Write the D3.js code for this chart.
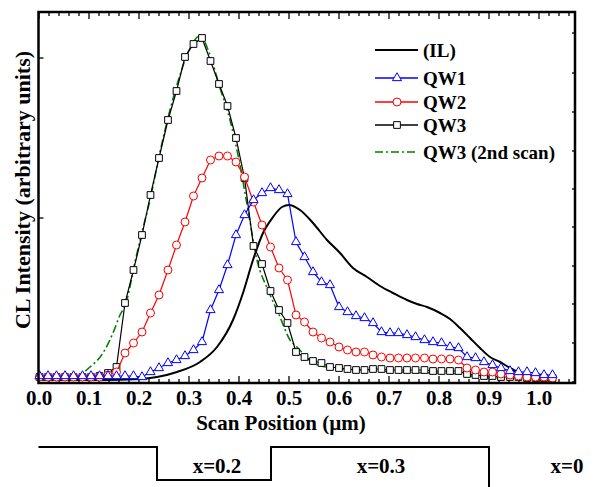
<!DOCTYPE html>
<html>
<head>
<meta charset="utf-8">
<script src="https://cdn.jsdelivr.net/npm/d3@7"></script>
<style>
  body { margin: 0; background: #fff; }
  svg { font-family: "Liberation Serif", "Times New Roman", serif; font-weight: bold; }
</style>
</head>
<body>
<svg id="chart" width="599" height="487"></svg>
<script>
// scan positions (um) where QW1/QW2/QW3 were sampled
const scanX = [0.001, 0.018, 0.035, 0.052, 0.069, 0.087, 0.104, 0.121, 0.138, 0.155,
  0.172, 0.189, 0.206, 0.223, 0.240, 0.258, 0.275, 0.292, 0.309, 0.326,
  0.343, 0.360, 0.377, 0.394, 0.411, 0.429, 0.446, 0.463, 0.480, 0.497,
  0.514, 0.531, 0.548, 0.565, 0.582, 0.600, 0.617, 0.634, 0.651, 0.668,
  0.685, 0.702, 0.719, 0.736, 0.753, 0.771, 0.788, 0.805, 0.822, 0.839,
  0.856, 0.873, 0.890, 0.907, 0.924, 0.942, 0.959, 0.976, 0.993, 1.010, 1.027];

const qw1 = [2, 2, 2, 2, 2, 2, 2, 2, 2, 2,
  2, 2, 1, 6, 10, 15, 18, 22, 28, 36,
  68, 88, 113, 143, 163, 178, 185, 190, 188, 184,
  136, 121, 106, 96, 93, 71, 66, 62, 60, 55,
  46, 45, 45, 43, 41, 38, 36, 35, 31, 30,
  21, 20, 16, 13, 10, 7, 6, 6, 5, 3, 3];

const qw2 = [1, 1, 1, 1, 1, 1, 1, 1, 3, 6,
  25, 35, 46, 65, 83, 108, 133, 156, 182, 200,
  218, 222, 222, 216, 201, 176, 153, 131, 110, 98,
  63, 56, 46, 40, 36, 31, 28, 26, 26, 23,
  21, 20, 20, 20, 20, 20, 19, 19, 19, 18,
  10, 8, 6, 6, 4, 3, 2, 1, 1, 1, 0];

const qw3 = [1, 1, 1, 1, 1, 1, 1, 2, 5, 11,
  75, 108, 143, 183, 220, 258, 287, 321, 334, 340,
  317, 294, 272, 240, 200, 132, 114, 87, 68, 55,
  26, 21, 17, 15, 11, 10, 9, 8, 8, 9,
  9, 8, 8, 8, 8, 8, 7, 7, 7, 7,
  4, 3, 2, 2, 1, 1, 1, 0, 0, 0, 0];

// (IL) trace
const ilX = [0, 0.122, 0.202, 0.236, 0.276, 0.322, 0.356, 0.388, 0.408, 0.428,
  0.448, 0.468, 0.486, 0.500, 0.522, 0.548, 0.576, 0.602, 0.628, 0.656,
  0.682, 0.708, 0.736, 0.756, 0.776, 0.802, 0.822, 0.842, 0.862, 0.882,
  0.902, 0.922, 0.942, 0.962, 0.988, 1.016, 1.032];
const ilY = [-2, -2, -1, 1, 6, 16, 31, 58, 85, 118,
  145, 161, 171, 173, 168, 155, 138, 125, 110, 101,
  92, 85, 78, 74, 71, 65, 59, 50, 40, 30,
  21, 16, 10, 5, 1, 0, 0];

// QW3 (2nd scan) trace
const scan2X = [0.001, 0.022, 0.068, 0.102, 0.128, 0.148, 0.162, 0.174, 0.192, 0.208,
  0.222, 0.242, 0.262, 0.282, 0.302, 0.322, 0.342, 0.362, 0.382, 0.402,
  0.418, 0.436, 0.458, 0.482, 0.502, 0.516, 0.548, 0.588, 0.656, 0.722,
  0.842, 0.862, 0.922, 1.032];
const scan2Y = [-2, -2, 0, 11, 25, 45, 63, 75, 116, 150,
  178, 226, 268, 303, 330, 342, 323, 290, 258, 213,
  168, 118, 88, 61, 38, 31, 15, 10, 8, 6,
  4, 2, 1, -1];

const xMajor = [0, 0.1, 0.2, 0.3, 0.4, 0.5, 0.6, 0.7, 0.8, 0.9, 1.0];
const xMinor = d3.range(0, 1.061, 0.02);
const leftTicks = [0, 160, 320];
const rightTicks = [-4, 35, 74, 112, 151, 189, 227, 266, 305, 345];

// composition profile under the plot
const layerSteps = [[-0.001, 1], [0.236, 0], [0.464, 1], [0.900, -0.6], [1.1, -0.6]];
const layerLabels = ['x=0.2', 'x=0.3', 'x=0'];
const layerLabelX = [0.356, 0.684, 1.056];

const svg = d3.select('#chart');
const L = 38.5, R = 575, T = 12, B = 383;

const x = d3.scaleLinear().domain([0, 1]).range([39, 539]);
const y = d3.scaleLinear().domain([-5, 366]).range([B, T]);
const level = d3.scaleLinear().domain([0, 1]).range([480, 447]);

// ticks (all pointing inward)
const tk = svg.append('g').attr('stroke', '#000').attr('stroke-width', 1.3);
xMinor.forEach(v => {
  const major = xMajor.some(m => Math.abs(m - v) < 1e-6);
  const len = major ? 7 : 4;
  tk.append('line').attr('x1', x(v)).attr('x2', x(v)).attr('y1', B).attr('y2', B - len);
  tk.append('line').attr('x1', x(v)).attr('x2', x(v)).attr('y1', T).attr('y2', T + len);
});
leftTicks.forEach(v => {
  tk.append('line').attr('x1', L).attr('x2', L + 5).attr('y1', y(v)).attr('y2', y(v));
});
rightTicks.forEach(v => {
  tk.append('line').attr('x1', R).attr('x2', R - 3).attr('y1', y(v)).attr('y2', y(v));
});

svg.append('g').selectAll('text').data(xMajor).join('text')
  .attr('x', d => x(d)).attr('y', 405)
  .attr('text-anchor', 'middle').attr('font-size', 21)
  .text(d => d3.format('.1f')(d));

svg.append('text').attr('x', x(0.484)).attr('y', 430)
  .attr('text-anchor', 'middle').attr('font-size', 21)
  .text('Scan Position (µm)');

svg.append('text')
  .attr('transform', 'translate(30,190) rotate(-90)')
  .attr('text-anchor', 'middle').attr('font-size', 22)
  .text('CL Intensity (arbitrary units)');

// curves
const line = d3.line().x(d => x(d[0])).y(d => y(d[1]));

svg.append('path')
  .datum(d3.zip(ilX, ilY))
  .attr('fill', 'none').attr('stroke', '#000').attr('stroke-width', 2)
  .attr('d', line.curve(d3.curveMonotoneX));

svg.append('path')
  .datum(d3.zip(scan2X, scan2Y))
  .attr('fill', 'none').attr('stroke', '#008000').attr('stroke-width', 1.6)
  .attr('stroke-dasharray', '8,3,2,3')
  .attr('d', line.curve(d3.curveMonotoneX));

const series = [
  { name: 'QW3', values: qw3, color: '#000', symbol: d3.symbolSquare, size: 45 },
  { name: 'QW2', values: qw2, color: '#ff0000', symbol: d3.symbolCircle, size: 50 },
  { name: 'QW1', values: qw1, color: '#0000ff', symbol: d3.symbolTriangle, size: 36 }
];

series.forEach(s => {
  const pts = d3.zip(scanX, s.values);
  svg.append('path').datum(pts)
    .attr('fill', 'none').attr('stroke', s.color).attr('stroke-width', 1.2)
    .attr('d', line.curve(d3.curveLinear));
  svg.append('g').selectAll('path').data(pts).join('path')
    .attr('transform', d => `translate(${x(d[0])},${y(d[1])})`)
    .attr('d', d3.symbol(s.symbol, s.size))
    .attr('fill', '#fff').attr('stroke', s.color).attr('stroke-width', 1);
});

// frame
svg.append('rect').attr('x', L).attr('y', T).attr('width', R - L).attr('height', B - T)
  .attr('fill', 'none').attr('stroke', '#000').attr('stroke-width', 2.5);

// legend
const legendY = [50, 78, 102, 125, 152];
const legend = svg.append('g');
const legendItems = [
  { label: '(IL)', color: '#000', dash: null, symbol: null },
  { label: 'QW1', color: '#0000ff', dash: null, symbol: d3.symbolTriangle, size: 36 },
  { label: 'QW2', color: '#ff0000', dash: null, symbol: d3.symbolCircle, size: 50 },
  { label: 'QW3', color: '#000', dash: null, symbol: d3.symbolSquare, size: 45 },
  { label: 'QW3 (2nd scan)', color: '#008000', dash: '8,3,2,3', symbol: null }
];
legendItems.forEach((d, i) => {
  const ly = legendY[i];
  legend.append('line').attr('x1', 375).attr('x2', 418).attr('y1', ly).attr('y2', ly)
    .attr('stroke', d.color).attr('stroke-width', i === 0 ? 2 : 1.3)
    .attr('stroke-dasharray', d.dash);
  if (d.symbol) {
    legend.append('path').attr('transform', `translate(397,${ly})`)
      .attr('d', d3.symbol(d.symbol, d.size))
      .attr('fill', '#fff').attr('stroke', d.color).attr('stroke-width', 1);
  }
  legend.append('text').attr('x', 423).attr('y', ly).attr('dy', '0.35em')
    .attr('font-size', 19).text(d.label);
});

// composition profile
svg.append('path')
  .datum(layerSteps)
  .attr('fill', 'none').attr('stroke', '#000').attr('stroke-width', 2)
  .attr('d', d3.line().x(d => x(d[0])).y(d => level(d[1])).curve(d3.curveStepAfter));

svg.append('g').selectAll('text').data(layerLabels).join('text')
  .attr('x', (d, i) => x(layerLabelX[i])).attr('y', 473)
  .attr('text-anchor', 'middle').attr('font-size', 21)
  .text(d => d);
</script>
</body>
</html>
